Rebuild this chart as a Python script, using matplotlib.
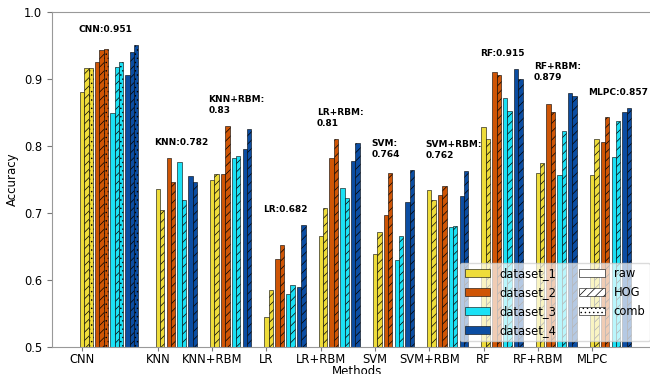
import matplotlib
matplotlib.use("Agg")
import matplotlib.pyplot as plt
from matplotlib.patches import Patch

# accuracy per method: one list per dataset, ordered raw, HOG (, comb)
methods = ["CNN", "KNN", "KNN+RBM", "LR", "LR+RBM", "SVM", "SVM+RBM", "RF", "RF+RBM", "MLPC"]
datasets = ["dataset_1", "dataset_2", "dataset_3", "dataset_4"]
features = ["raw", "HOG", "comb"]

acc_d1 = [[0.880, 0.916, 0.917], [0.736, 0.704], [0.749, 0.758], [0.545, 0.585], [0.665, 0.708],
          [0.639, 0.671], [0.734, 0.719], [0.829, 0.810], [0.759, 0.774], [0.756, 0.810]]
acc_d2 = [[0.925, 0.943, 0.945], [0.782, 0.746], [0.758, 0.83], [0.632, 0.652], [0.782, 0.81],
          [0.697, 0.760], [0.727, 0.741], [0.911, 0.906], [0.862, 0.851], [0.806, 0.844]]
acc_d3 = [[0.849, 0.918, 0.926], [0.776, 0.719], [0.782, 0.785], [0.579, 0.592], [0.737, 0.722],
          [0.630, 0.665], [0.679, 0.681], [0.871, 0.852], [0.756, 0.822], [0.783, 0.838]]
acc_d4 = [[0.906, 0.940, 0.951], [0.755, 0.746], [0.795, 0.825], [0.589, 0.682], [0.778, 0.805],
          [0.717, 0.764], [0.725, 0.762], [0.915, 0.900], [0.879, 0.875], [0.851, 0.857]]

# methods whose best-score label goes on two lines
wrapped = ["KNN+RBM", "LR+RBM", "SVM", "SVM+RBM", "RF+RBM"]

colors = ["#EEDC3A", "#CF5505", "#1BE1F5", "#0B4DA2"]
hatches = ["", "////", "...."]

plt.rcParams["hatch.linewidth"] = 0.5
fig = plt.figure(figsize=(6.5, 3.74), dpi=100)
ax = fig.add_axes([0.08, 0.0722, 0.9385, 0.8957])

all_acc = [acc_d1, acc_d2, acc_d3, acc_d4]
w = 0.08
gap = 0.04
start = 0.0
ticks = []
for m, name in enumerate(methods):
    nf = len(acc_d1[m])
    stride = nf * w + gap
    ticks.append(start)
    for d in range(len(datasets)):
        for f in range(nf):
            ax.bar(start + d * stride + f * w, all_acc[d][m][f], width=w,
                   color=colors[d], hatch=hatches[f], edgecolor="black", linewidth=0.4)
    best = max(max(all_acc[d][m]) for d in range(len(datasets)))
    sep = "\n" if name in wrapped else ""
    ax.text(start - 0.07, best + 0.0165, f"{name}:{sep}{best:g}", ha="left", va="bottom",
            fontsize=6.5, fontweight="bold", linespacing=1.3)
    start += 5 * stride

ax.set_xticks(ticks)
ax.set_xticklabels(methods, fontsize=8.3)
ax.set_xlim(-0.553, 10.69)
ax.set_ylim(0.5, 1.0)
ax.set_yticks([0.5, 0.6, 0.7, 0.8, 0.9, 1.0])
ax.tick_params(axis="y", labelsize=8.3)
ax.tick_params(axis="x", length=3, pad=1.5)
ax.tick_params(colors="#777777", labelcolor="black", width=0.8)
ax.set_ylabel("Accuracy", fontsize=8.5)
ax.set_xlabel("Methods", fontsize=8.5, labelpad=-1)
for s in ax.spines.values():
    s.set_color("#999999")

handles = [Patch(facecolor=c, edgecolor="black", linewidth=0.4) for c in colors]
handles += [Patch(facecolor="white", edgecolor="black", linewidth=0.4, hatch=h) for h in hatches]
labels = datasets + features
ax.legend(handles, labels, ncol=2, loc="lower right", bbox_to_anchor=(0.99, 0.0),
          fontsize=8.3, framealpha=0.7, handlelength=2.2, handletextpad=0.8)

fig.savefig("out.png", dpi=100)
